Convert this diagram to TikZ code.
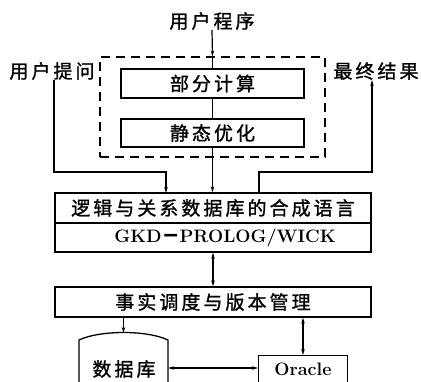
\documentclass[tikz,border=0pt]{standalone}
\usepackage{fontspec}
\newfontfamily\cjk[LetterSpace=16,FakeBold=1.2]{Noto Sans CJK SC}
\usetikzlibrary{arrows.meta}
\begin{document}
\begin{tikzpicture}[x=1pt,y=-1pt,
  box/.style={draw,line width=1.3pt,inner sep=0pt,font=\cjk\fontsize{19}{19}\selectfont},
  lbl/.style={inner sep=0pt,font=\cjk\fontsize{19}{19}\selectfont},
  latin/.style={inner sep=0pt,font=\bfseries\fontsize{18}{18}\selectfont},
  dashbox/.style={draw,line width=1.2pt,dash pattern=on 9pt off 6pt,inner sep=0pt},
  conn/.style={line width=1.2pt},
  tip/.style={-{Stealth[length=6pt,width=3.5pt]}},
  btip/.style={{Stealth[length=6pt,width=3.5pt]}-{Stealth[length=6pt,width=3.5pt]}}]
\useasboundingbox (0,0) rectangle (421,381);
\clip (0,0) rectangle (421,381);
% labels
\node[lbl] (prog) at (212,21) {用户程序};
\node[lbl] (ask) at (52,71) {用户提问};
\node[lbl] (res) at (376,71) {最终结果};
% dashed group
\node[dashbox,minimum width=225pt,minimum height=100pt] (grp) at (212.5,107) {};
\node[box,minimum width=183pt,minimum height=29pt] (pc) at (212.5,83.5) {部分计算};
\node[box,minimum width=183pt,minimum height=28pt] (so) at (212.5,133) {静态优化};
% logic language box
\node[box,minimum width=316pt,minimum height=30pt] (lg1) at (213,208) {逻辑与关系数据库的合成语言};
\node[box,latin,minimum width=316pt,minimum height=29pt] (lg2) at (213,237.5) {\hspace{24pt}GKD{\cjk －}PROLOG/WICK};
% fact box
\node[box,minimum width=316pt,minimum height=30pt] (fact) at (213,302) {事实调度与版本管理};
% database cylinder
\draw[line width=1.3pt] (79,395) -- (79,340) .. controls (100,330) and (147,330) .. (168,340) -- (168,395);
\coordinate (dbtop) at (123.5,333);
\node[lbl] (db) at (124,369) {数据库};
\coordinate (dbr) at (168,368);
% oracle box
\node[draw,line width=1.3pt,minimum width=89pt,minimum height=45pt,anchor=north west] (ora) at (258,355) {};
\node[latin] (oratxt) at (303,369) {Oracle};
% connectors
\coordinate (gtop) at (grp.north -| pc.north);
\draw[conn,tip] (prog.south) -- (gtop);
\draw[conn] (gtop) -- (pc.north);
\draw[conn] (pc.south) -- (so.north);
\draw[conn,tip] (so.south) -- (so.south |- lg1.north);
\coordinate (lin) at (166,193);
\coordinate (rout) at (259,193);
\coordinate (lcorner) at (54,172);
\coordinate (rcorner) at (372,172);
\draw[conn,tip] (lcorner |- ask.south) -- (lcorner) -| (lin);
\draw[conn,tip] (rout) |- (rcorner) -- (rcorner |- res.south);
\draw[conn,btip] (lg2.south) -- (fact.north);
\draw[conn,tip] (dbtop |- fact.south) -- (dbtop);
\coordinate (orat) at (ora.north -| oratxt);
\draw[conn,btip] (orat |- fact.south) -- (orat);
\draw[conn,btip] (dbr) -- (ora.west |- dbr);
\end{tikzpicture}
\end{document}
